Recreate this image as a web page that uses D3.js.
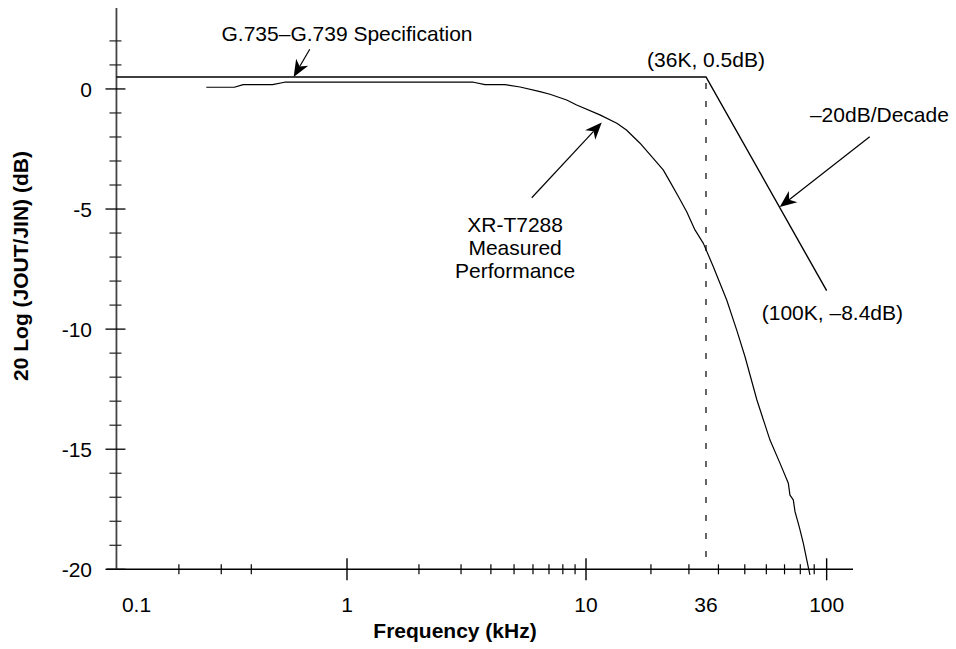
<!DOCTYPE html>
<html>
<head>
<meta charset="utf-8">
<script src="https://cdnjs.cloudflare.com/ajax/libs/d3/7.8.5/d3.min.js"></script>
<style>
  body { margin: 0; background: #fff; }
  text { font-family: Arial, "Liberation Sans", Helvetica, sans-serif; fill: #000; }
</style>
</head>
<body>
<div id="chart"></div>
<script>
////////////////////////////////////////////////////////////
//////////////////////// Data //////////////////////////////
////////////////////////////////////////////////////////////

// XR-T7288 measured jitter transfer (kHz / dB)
var measuredFreq = [0.26, 0.34, 0.37, 0.49, 0.55, 3.38, 3.78, 4.58, 5.3, 6.42, 7.07, 8.3, 9.14,
    11.6, 13.9, 15.4, 17.8, 20.5, 22.8, 24.5, 26.8, 29.3, 32.0, 35.0, 38.3, 42.9, 46.7, 50.1,
    55.4, 61.9, 67.4, 72.3, 73.3, 75.4, 76.5, 79.3, 82.1, 84.5, 86.8];
var measuredDb = [0.07, 0.07, 0.18, 0.18, 0.28, 0.28, 0.18, 0.18, 0.08, -0.11, -0.22, -0.46, -0.67,
    -1.08, -1.43, -1.71, -2.26, -2.89, -3.37, -3.86, -4.48, -5.11, -5.87, -6.43, -7.4, -8.79, -10.04, -11.15,
    -12.95, -14.62, -15.59, -16.42, -16.91, -17.11, -17.6, -18.23, -18.92, -19.61, -20.23];

// G.735-G.739 template: flat at 0.5dB to 36K, then -20dB/decade
var specFreq = [0.11, 36, 100];
var specDb = [0.5, 0.5, -8.4];

// axis ticks
var xLabelValues = [0.1, 1, 10, 36, 100];
var xLabels = ["0.1", "1", "10", "36", "100"];
var xMajorTicks = [1, 10, 100];
var yLabelValues = [0, -5, -10, -15, -20];
var yLabels = ["0", "-5", "-10", "-15", "-20"];

////////////////////////////////////////////////////////////
//////////////////////// Set-up ////////////////////////////
////////////////////////////////////////////////////////////

var width = 956,
    height = 649;

var svg = d3.select("#chart").append("svg")
    .attr("width", width)
    .attr("height", height);

//The printed frequency axis is not a clean log axis, so pin it at the labelled points
var x = d3.scaleLog()
    .domain([0.1, 1, 10, 36, 125])
    .range([106.5, 347, 586, 706, 853]);

var y = d3.scaleLinear()
    .domain([-20, 3.37])
    .range([569.3, 8]);

var yAxisAt = 0.11; //frequency where the dB axis stands

var x0 = x(yAxisAt),
    y0 = y(-20);

////////////////////////////////////////////////////////////
//////////////////////// Axes //////////////////////////////
////////////////////////////////////////////////////////////

//x axis line + ticks crossing it
svg.append("line")
    .attr("x1", x(0.1)).attr("x2", x(125))
    .attr("y1", y0).attr("y2", y0)
    .style("stroke", "#000").style("stroke-width", 1.4);

var xMinor = x.ticks().filter(function (d) {
    return d > 0.15 && d < 101 && xMajorTicks.indexOf(Math.round(d)) < 0;
});

svg.selectAll(".xMinor")
    .data(xMinor)
    .enter().append("line")
    .attr("x1", x).attr("x2", x)
    .attr("y1", y0 - 5).attr("y2", y0 + 5)
    .style("stroke", "#000").style("stroke-width", 1.2);

svg.selectAll(".xMajor")
    .data(xMajorTicks)
    .enter().append("line")
    .attr("x1", x).attr("x2", x)
    .attr("y1", y0 - 11).attr("y2", y0 + 11)
    .style("stroke", "#000").style("stroke-width", 1.4);

svg.selectAll(".xLabel")
    .data(xLabelValues)
    .enter().append("text")
    .attr("x", function (d) { return x(d); })
    .attr("dx", function (d, i) { return i === 0 ? 30 : 0; }) //0.1 sits clear of the dB axis
    .attr("y", 612)
    .style("text-anchor", "middle")
    .style("font-size", "21px")
    .text(function (d, i) { return xLabels[i]; });

svg.append("text")
    .attr("x", 455)
    .attr("y", 638)
    .style("text-anchor", "middle")
    .style("font-size", "21px")
    .style("font-weight", "bold")
    .text("Frequency (kHz)");

//y axis line + ticks
svg.append("line")
    .attr("x1", x0).attr("x2", x0)
    .attr("y1", y(-20)).attr("y2", y(3.37))
    .style("stroke", "#444").style("stroke-width", 1.8);

var yMinor = d3.range(-19, 3).filter(function (d) { return d % 5 !== 0; });

svg.selectAll(".yMinor")
    .data(yMinor)
    .enter().append("line")
    .attr("x1", x0 - 7).attr("x2", x0 + 5)
    .attr("y1", y).attr("y2", y)
    .style("stroke", "#222").style("stroke-width", 1.2);

svg.selectAll(".yMajor")
    .data(yLabelValues)
    .enter().append("line")
    .attr("x1", x0 - 11).attr("x2", x0 + 9)
    .attr("y1", y).attr("y2", y)
    .style("stroke", "#000").style("stroke-width", 1.3);

svg.selectAll(".yLabel")
    .data(yLabelValues)
    .enter().append("text")
    .attr("x", 92)
    .attr("y", function (d) { return y(d); })
    .attr("dy", "0.36em")
    .style("text-anchor", "end")
    .style("font-size", "21px")
    .text(function (d, i) { return yLabels[i]; });

svg.append("text")
    .attr("transform", "translate(28,266) rotate(-90)")
    .style("text-anchor", "middle")
    .style("font-size", "21px")
    .style("font-weight", "bold")
    .text("20 Log (JOUT/JIN) (dB)");

////////////////////////////////////////////////////////////
//////////////////////// Lines /////////////////////////////
////////////////////////////////////////////////////////////

var line = d3.line()
    .x(function (d) { return x(d[0]); })
    .y(function (d) { return y(d[1]); });

//dashed marker at the 36K corner
svg.append("line")
    .attr("x1", x(36)).attr("x2", x(36))
    .attr("y1", y(specDb[1]) + 6).attr("y2", y0)
    .style("stroke", "#000").style("stroke-width", 1.2)
    .style("stroke-dasharray", "6,12");

svg.append("path")
    .attr("d", line(d3.zip(specFreq, specDb)))
    .style("fill", "none").style("stroke", "#000").style("stroke-width", 1.4);

svg.append("path")
    .attr("d", line(d3.zip(measuredFreq, measuredDb)))
    .style("fill", "none").style("stroke", "#000").style("stroke-width", 1.2)
    .style("stroke-linejoin", "round");

////////////////////////////////////////////////////////////
///////////////////// Annotations //////////////////////////
////////////////////////////////////////////////////////////

//Arrow from tail to tip, both in (kHz, dB)
function arrow(tail, tip) {
    var x1 = x(tail[0]), y1 = y(tail[1]),
        x2 = x(tip[0]), y2 = y(tip[1]);
    var a = Math.atan2(y2 - y1, x2 - x1),
        L = 17, W = 7, N = 12;
    var ca = Math.cos(a), sa = Math.sin(a);
    svg.append("line")
        .attr("x1", x1).attr("y1", y1)
        .attr("x2", x2 - N * ca).attr("y2", y2 - N * sa)
        .style("stroke", "#000").style("stroke-width", 1.2);
    var pts = [
        [x2, y2],
        [x2 - L * ca + W * sa, y2 - L * sa - W * ca],
        [x2 - N * ca, y2 - N * sa],
        [x2 - L * ca - W * sa, y2 - L * sa + W * ca]
    ];
    svg.append("path")
        .attr("d", "M" + pts.join("L") + "Z")
        .style("fill", "#000");
}

arrow([0.7, 1.65], [0.6, 0.5]);
arrow([5.93, -4.53], [11.83, -1.4]);
arrow([144, -1.99], [67.2, -4.92]);

function note(lines, at, anchor) {
    var t = svg.append("text")
        .attr("x", x(at[0]))
        .attr("y", y(at[1]))
        .style("text-anchor", anchor || "middle")
        .style("font-size", "21px");
    lines.forEach(function (s, i) {
        t.append("tspan")
            .attr("x", x(at[0]))
            .attr("dy", i === 0 ? 0 : 23.3)
            .text(s);
    });
}

note(["G.735–G.739 Specification"], [1, 1.98]);
note(["(36K, 0.5dB)"], [36, 0.92]);
note(["–20dB/Decade"], [86.8, -1.36], "start");
note(["(100K, –8.4dB)"], [105, -9.62]);
note(["XR-T7288", "Measured", "Performance"], [5.05, -5.94]);
</script>
</body>
</html>
